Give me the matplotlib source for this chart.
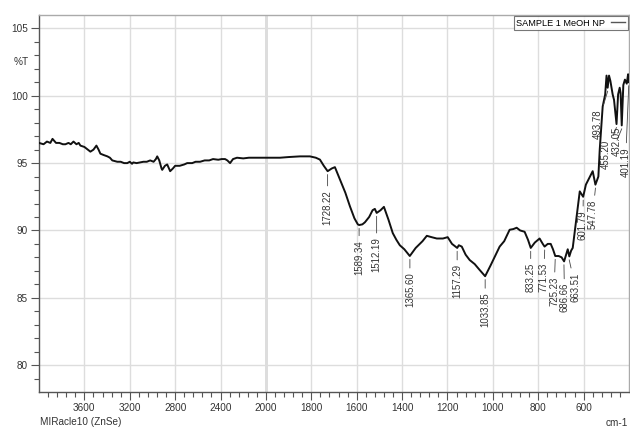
import numpy as np
import matplotlib
matplotlib.use("Agg")
import matplotlib.pyplot as plt
from matplotlib.ticker import FixedLocator, NullFormatter

# ---------------- data ----------------
wavenumber = [4000, 3960, 3930, 3900, 3881, 3850, 3820, 3790, 3767, 3740, 3720, 3696, 3670, 3650, 3635,
              3600, 3570, 3547, 3520, 3494, 3475, 3459, 3430, 3397, 3375, 3354, 3330, 3310, 3280, 3250,
              3222, 3200, 3180, 3169, 3140, 3108, 3080, 3050, 3020, 2990, 2970, 2958, 2940, 2920, 2914,
              2890, 2870, 2844, 2820, 2800, 2760, 2720, 2694, 2650, 2620, 2580, 2540, 2500, 2466, 2420,
              2390, 2360, 2340, 2316, 2290, 2255, 2200, 2150, 2100, 2053, 2000, 1938, 1900, 1850, 1806,
              1780, 1762, 1745, 1728, 1710, 1696, 1674, 1650, 1630, 1610, 1595, 1589, 1575, 1564, 1545,
              1530, 1520, 1512, 1495, 1480, 1460, 1441, 1425, 1410, 1390, 1366, 1340, 1310, 1291, 1270,
              1247, 1220, 1199, 1180, 1165, 1157, 1150, 1137, 1120, 1102, 1080, 1060, 1034, 1010, 990,
              970, 950, 926, 910, 895, 880, 860, 845, 833, 815, 794, 780, 772, 758, 745,
              735, 725, 710, 697, 686, 675, 670, 663, 655, 648, 640, 631, 617, 602, 590,
              575, 560, 548, 535, 529, 516, 505, 499, 494, 488, 482, 472, 466, 455, 448,
              441, 437, 432, 425, 418, 410, 404, 401, 400]
transmittance = [96.5, 96.4, 96.6, 96.5, 96.8, 96.5, 96.5, 96.4, 96.4, 96.5, 96.4, 96.6, 96.4, 96.5, 96.3,
                 96.2, 96.0, 95.85, 96.0, 96.3, 96.0, 95.7, 95.6, 95.5, 95.4, 95.2, 95.15, 95.1, 95.1, 95.0,
                 95.0, 95.1, 94.95, 95.05, 95.0, 95.05, 95.1, 95.1, 95.2, 95.1, 95.3, 95.5, 95.2, 94.6, 94.5,
                 94.8, 94.9, 94.4, 94.6, 94.8, 94.8, 94.9, 95.0, 95.0, 95.1, 95.1, 95.2, 95.2, 95.3, 95.25,
                 95.3, 95.3, 95.2, 95.0, 95.3, 95.4, 95.35, 95.4, 95.4, 95.4, 95.4, 95.4, 95.45, 95.5, 95.5,
                 95.4, 95.26, 94.8, 94.4, 94.6, 94.7, 93.8, 92.8, 91.8, 90.9, 90.45, 90.4, 90.45, 90.6, 91.0,
                 91.5, 91.6, 91.3, 91.5, 91.75, 90.8, 89.8, 89.3, 88.9, 88.6, 88.1, 88.7, 89.2, 89.6, 89.5,
                 89.4, 89.4, 89.5, 89.0, 88.8, 88.7, 88.9, 88.8, 88.2, 87.8, 87.5, 87.1, 86.6, 87.4, 88.1,
                 88.8, 89.2, 90.05, 90.1, 90.2, 90.0, 89.9, 89.3, 88.7, 89.1, 89.4, 89.0, 88.8, 89.0, 89.0,
                 88.6, 88.1, 88.1, 88.0, 87.7, 88.3, 88.6, 88.07, 88.5, 88.7, 89.8, 91.05, 92.9, 92.5, 93.4,
                 93.9, 94.4, 93.4, 94.0, 96.0, 99.2, 100.1, 101.5, 100.6, 101.5, 101.1, 100.1, 99.7, 97.9, 100.1,
                 100.6, 100.2, 97.8, 100.8, 101.2, 100.9, 101.6, 101.0, 101.5]

peak_labels = ["1728.22", "1589.34", "1512.19", "1365.60", "1157.29", "1033.85", "833.25", "771.53",
               "725.23", "686.66", "663.51", "601.79", "547.78", "493.78", "455.20", "432.05", "401.19"]
peak_wn = [1728.22, 1589.34, 1512.19, 1365.60, 1157.29, 1033.85, 833.25, 771.53,
           725.23, 686.66, 663.51, 601.79, 547.78, 493.78, 455.20, 432.05, 401.19]
peak_t = [94.4, 90.4, 91.3, 88.1, 88.7, 86.6, 88.7, 88.8,
          88.1, 87.7, 88.07, 92.5, 93.4, 100.6, 97.9, 97.8, 101.0]
# label text anchor positions (layout)
label_x = [1728.22, 1589.34, 1512.19, 1365.60, 1157.29, 1033.85, 833.25, 776,
           730, 684, 637, 603, 560, 538, 503, 455, 415]
label_y = [93.0, 89.3, 89.5, 86.9, 87.5, 85.4, 87.6, 87.6,
           86.6, 86.1, 86.9, 91.5, 92.3, 99.0, 96.75, 97.7, 96.2]

x_major = [3600, 3200, 2800, 2400, 2000, 1800, 1600, 1400, 1200, 1000, 800, 600]
y_major = [80, 85, 90, 95, 100, 105]

# ---------------- plot ----------------
def fwd(x):
    x = np.asarray(x, dtype=float)
    return np.where(x > 2000, 2000 + (x - 2000) / 2.0, x)

def inv(y):
    y = np.asarray(y, dtype=float)
    return np.where(y > 2000, 2000 + (y - 2000) * 2.0, y)

regular = ['Liberation Sans', 'DejaVu Sans']

fig = plt.figure(figsize=(6.3, 4.28), dpi=100)
ax = fig.add_axes([39 / 630, 1 - 392 / 428, 590 / 630, 377 / 428])
ax.set_xscale('function', functions=(fwd, inv))
ax.set_xlim(4000, 400)
ax.set_ylim(78, 106)

ax.plot(wavenumber, transmittance, color='#111111', lw=1.4, label='SAMPLE 1 MeOH NP', zorder=3)

ax.xaxis.set_major_locator(FixedLocator(x_major))
minor_x = [v for v in list(range(3920, 2000, -80)) + list(range(1960, 400, -40)) if v not in x_major]
ax.xaxis.set_minor_locator(FixedLocator(minor_x))
ax.xaxis.set_minor_formatter(NullFormatter())
ax.set_xticklabels([str(v) for v in x_major])
ax.yaxis.set_major_locator(FixedLocator(y_major))
ax.yaxis.set_minor_locator(FixedLocator([v for v in range(79, 106) if v not in y_major]))
ax.set_yticklabels([str(v) for v in y_major])

ax.grid(True, which='major', color='#dddddd', lw=1.0, zorder=0)
ax.axvline(2000, color='#555555', lw=1.0, zorder=1)

ax.tick_params(axis='both', which='major', length=6, width=0.8, color='#555555',
               labelsize=7.2, labelcolor='#333333', pad=2)
ax.tick_params(axis='both', which='minor', length=3.5, width=0.8, color='#555555')
for lab in ax.get_xticklabels() + ax.get_yticklabels():
    lab.set_family(regular)

for s in ['left', 'bottom']:
    ax.spines[s].set_color('#555555')
    ax.spines[s].set_linewidth(1.0)
for s in ['top', 'right']:
    ax.spines[s].set_color('#aaaaaa')
    ax.spines[s].set_linewidth(1.0)

for txt, px, pt, lx, ly in zip(peak_labels, peak_wn, peak_t, label_x, label_y):
    ax.annotate(txt, xy=(px, pt - 0.25), xytext=(lx, ly), textcoords='data',
                rotation=90, ha='center', va='top', fontsize=6.9, color='#333333',
                family=regular,
                arrowprops=dict(arrowstyle='-', color='#444444', lw=0.6, shrinkA=1, shrinkB=0),
                zorder=4)

leg = ax.legend(loc='upper right', markerfirst=False, frameon=True, fancybox=False,
                handlelength=1.6, borderpad=0.25, borderaxespad=0.15,
                handletextpad=0.6, prop={'family': regular, 'size': 6.6})
leg.get_frame().set_edgecolor('#555555')
leg.get_frame().set_linewidth(0.8)
for line in leg.get_lines():
    line.set_linewidth(1.0)
    line.set_color('#555555')

fig.text(21 / 630, 1 - 62 / 428, '%T', ha='center', va='center', fontsize=7.2,
         color='#333333', family=regular)
fig.text(40 / 630, 1 - 422 / 428, 'MIRacle10 (ZnSe)', ha='left', va='center', fontsize=7.2,
         color='#333333', family=regular)
fig.text(628 / 630, 1 - 423 / 428, 'cm-1', ha='right', va='center', fontsize=7.2,
         color='#333333', family=regular)

fig.savefig('out.png', dpi=100)
